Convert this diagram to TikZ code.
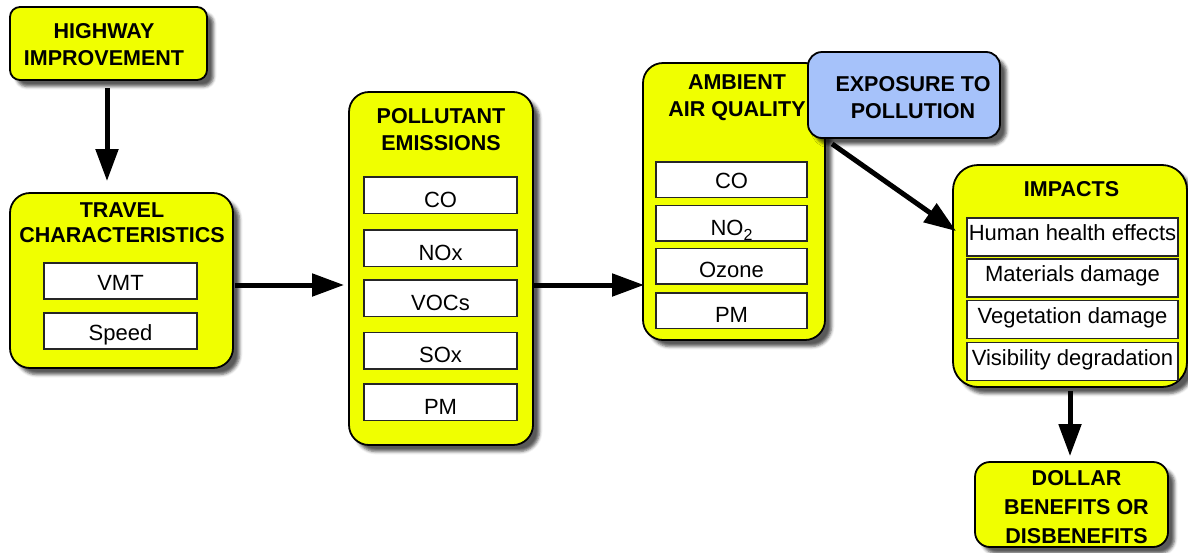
\documentclass[tikz,border=0pt]{standalone}
\usepackage{fontspec}
\setmainfont{Liberation Sans}
\usetikzlibrary{arrows.meta,shadows.blur,calc}
\definecolor{boxyellow}{RGB}{240,255,0}
\definecolor{boxblue}{RGB}{166,194,250}
\begin{document}
\begin{tikzpicture}[x=1pt,y=-1pt,
  panel/.style={draw=black, line width=1.8pt, fill=boxyellow, rounded corners=#1, inner sep=0pt,
    blur shadow={shadow xshift=6.5pt, shadow yshift=-6.5pt, shadow blur radius=3pt, shadow opacity=65}},
  sz/.style 2 args={minimum width=#1, minimum height=#2},
  title/.style={font=\bfseries\fontsize{21.5}{27}\selectfont, align=center, inner sep=0pt},
  cell/.style={draw=black!85, line width=1.5pt, fill=white, inner sep=0pt,
    font=\fontsize{22}{25}\selectfont, text height=#1, text depth=0pt},
  arr/.style={line width=5pt, -{Triangle[length=32pt,width=22pt]}}]
\useasboundingbox (0,0) rectangle (1188,552);

% Highway improvement
\node[panel=10pt, sz={197pt}{73pt}] (hw) at (108.5,43.5) {};
\node[title] (hwt) at (104,45) {HIGHWAY\\IMPROVEMENT};

% Travel characteristics
\node[panel=20pt, sz={223pt}{175pt}] (tr) at (121.5,280.5) {};
\node[title, font=\bfseries\fontsize{21.5}{25}\selectfont] (trt) at (122,223) {TRAVEL\\CHARACTERISTICS};
\node[cell=18pt, sz={153pt}{36pt}] (vmt) at (120.5,281) {VMT};
\node[cell=18pt, sz={153pt}{36pt}] (spd) at (120.5,331) {Speed};

% Pollutant emissions
\node[panel=20pt, sz={184pt}{353pt}] (pol) at (441,268.5) {};
\node[title] (polt) at (441,129.5) {POLLUTANT\\EMISSIONS};
\node[cell=24pt, sz={153pt}{36.5pt}] (pco) at (440.5,195) {CO};
\node[cell=24pt, sz={153pt}{36.5pt}] (pnox) at (440.5,248) {NOx};
\node[cell=24pt, sz={153pt}{36.5pt}] (pvoc) at (440.5,298) {VOCs};
\node[cell=24pt, sz={153pt}{36.5pt}] (psox) at (440.5,350.5) {SOx};
\node[cell=24pt, sz={153pt}{36.5pt}] (ppm) at (440.5,402) {PM};

% Ambient air quality
\node[panel=20pt, sz={182pt}{277pt}] (amb) at (734,201.5) {};
\node[title] (ambt) at (737,97.5) {AMBIENT\\AIR QUALITY};
\node[cell=17pt, sz={151pt}{35.5pt}] (aco) at (731.5,179.5) {CO};
\node[cell=24pt, sz={151pt}{35.5pt}] (ano) at (731.5,223) {NO\raisebox{-5.5pt}{\fontsize{16}{16}\selectfont 2}};
\node[cell=22pt, sz={151pt}{35.5pt}] (aoz) at (731.5,266) {Ozone};
\node[cell=23pt, sz={151pt}{35.5pt}] (apm) at (731.5,310.5) {PM};

% Exposure to pollution
\node[panel=14pt, sz={192pt}{86pt}, fill=boxblue] (exp) at (904,95) {};
\node[title] (expt) at (913,98) {EXPOSURE TO\\POLLUTION};

% Impacts
\node[panel=25pt, sz={234pt}{222pt}] (imp) at (1070,276) {};
\node[title] (impt) at (1071.5,189.5) {IMPACTS};
\node[cell=7pt, sz={211pt}{38pt}] (ihh) at (1072.5,237) {Human health effects};
\node[cell=7pt, sz={211pt}{38pt}] (imd) at (1072.5,278) {Materials damage};
\node[cell=7pt, sz={211pt}{38pt}] (ivd) at (1072.5,319.5) {Vegetation damage};
\node[cell=7pt, sz={211pt}{38pt}] (ivis) at (1072.5,361.5) {Visibility degradation};

% Dollar benefits
\node[panel=15pt, sz={193pt}{85pt}] (dol) at (1071.5,504.5) {};
\node[title, font=\bfseries\fontsize{21.5}{29}\selectfont] (dolt) at (1076.5,507) {DOLLAR\\BENEFITS OR\\DISBENEFITS};

% Arrows
\draw[arr] ($(hw.south)+(-1.5,7)$) -- ($(hw.south |- tr.north)+(-1.5,-11)$);
\draw[arr] ($(tr.east)+(1,4.5)$) -- ($(pol.west |- tr.east)+(-4,4.5)$);
\draw[arr] ($(pol.east)+(0,16.5)$) -- ($(amb.west |- pol.east)+(2,16.5)$);
\draw[arr] ($(exp.south west)+(25,5)$) -- ($(imp.north west)+(4,67)$);
\draw[arr] ($(imp.south)+(0,3)$) -- ($(imp.south |- dol.north)+(0,-5)$);
\end{tikzpicture}
\end{document}
